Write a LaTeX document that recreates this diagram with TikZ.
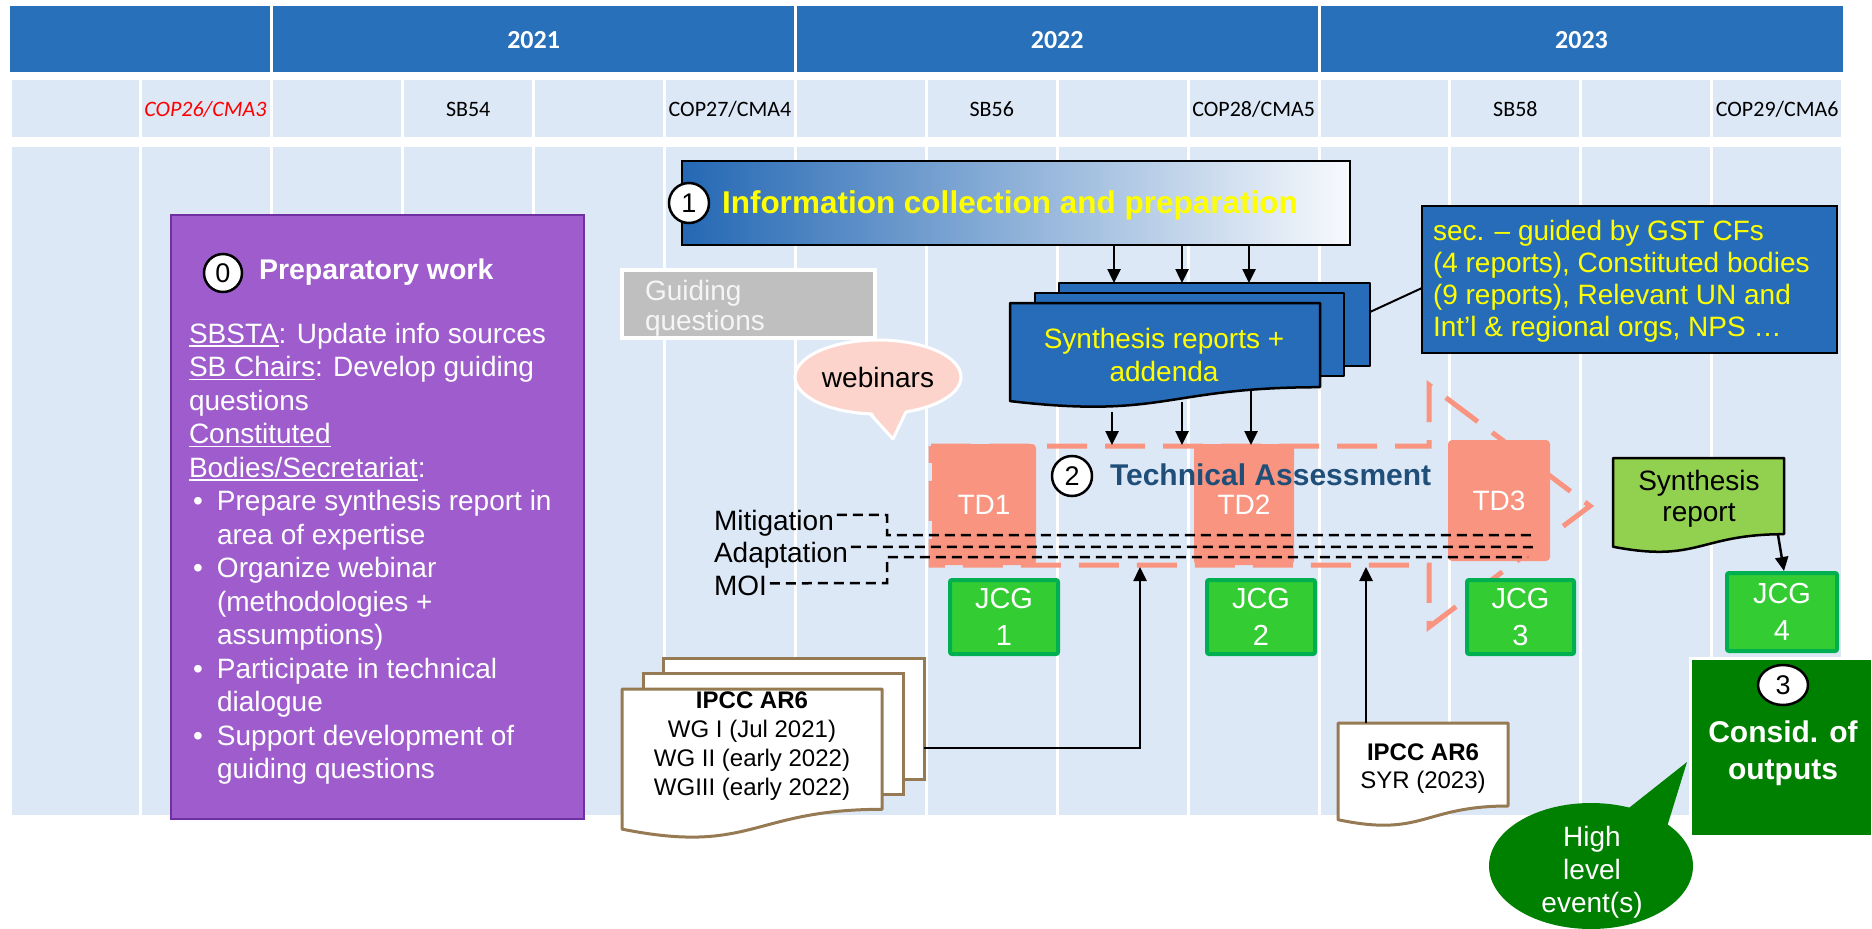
\documentclass[tikz,border=0pt]{standalone}
\usepackage{fontspec}
\setmainfont{Liberation Sans}
\newfontfamily\calib{Carlito}
\usetikzlibrary{arrows.meta,shapes.geometric,calc}
\definecolor{hdrblue}{RGB}{40,112,185}
\definecolor{cellblue}{RGB}{221,232,247}
\definecolor{docblue}{RGB}{38,108,184}
\definecolor{purplefill}{RGB}{158,92,204}
\definecolor{purpleedge}{RGB}{112,48,160}
\definecolor{salmon}{RGB}{248,148,127}
\definecolor{jcgfill}{RGB}{51,204,51}
\definecolor{jcgedge}{RGB}{0,176,80}
\definecolor{darkgreen}{RGB}{0,128,0}
\definecolor{lightgreen}{RGB}{146,208,80}
\definecolor{brownedge}{RGB}{150,122,84}
\definecolor{guidegray}{RGB}{191,191,191}
\definecolor{pinkfill}{RGB}{252,212,204}
\definecolor{tablue}{RGB}{31,78,121}
\definecolor{infoleft}{RGB}{36,104,180}
\definecolor{infomid}{RGB}{105,158,216}
\definecolor{inforight}{RGB}{248,250,253}
\definecolor{ylw}{RGB}{255,255,0}
\newcommand{\docshape}[5]{%
  \path[#5] (#1,#2) -- (#3,#2) -- (#3,{#2+0.802*#4})
    .. controls ({(#1+#3)/2},{#2+0.802*#4}) and ({(#1+#3)/2},{#2+1.1075*#4}) .. (#1,{#2+0.934*#4}) -- cycle;}
\newcommand{\pbul}{\makebox[28pt][l]{\hspace{4pt}\textbullet}}
\newcommand{\pind}{\hspace*{28pt}}
\newcommand{\uln}[1]{\setbox0\hbox{#1}\rlap{\rule[-3.5pt]{\wd0}{1.6pt}}\box0}
\begin{document}
\begin{tikzpicture}[x=1pt,y=-1pt,
  every node/.style={inner sep=0pt,outer sep=0pt},
  arr/.style={line width=2.5pt,-{Triangle[length=14pt,width=13pt]}},
  numcirc/.style={circle,draw=black,fill=white,line width=2.5pt,font=\fontsize{27}{30}\selectfont},
  hdrtext/.style={text=white,font=\calib\bfseries\fontsize{26}{30}\selectfont},
  rowtext/.style={font=\calib\fontsize{22}{26}\selectfont},
  tdbox/.style={fill=salmon,rounded corners=4pt,text=white,font=\fontsize{28}{30}\selectfont,anchor=north west},
  jcgbox/.style={fill=jcgfill,draw=jcgedge,line width=4pt,rounded corners=2pt,text=white,align=center,font=\fontsize{29}{37}\selectfont,anchor=north west},
  dline/.style={line width=2.5pt,dash pattern=on 10pt off 6pt},
  tadash/.style={draw=salmon,line width=5pt,dash pattern=on 40pt off 18pt},
  docline/.style={line width=2.5pt,line join=round}
]
\useasboundingbox (0,0) rectangle (1872,929);
% grid
\foreach \k in {0,...,13} {
  \fill[cellblue] ({10+130.9*\k+1.5},80) rectangle ({140.9+130.9*\k-1.5},137);
  \fill[cellblue] ({10+130.9*\k+1.5},147) rectangle ({140.9+130.9*\k-1.5},815);
}
\fill[hdrblue] (10,6) rectangle (270.3,72);
\fill[hdrblue] (273.3,6) rectangle (793.9,72);
\fill[hdrblue] (796.9,6) rectangle (1317.5,72);
\fill[hdrblue] (1320.5,6) rectangle (1842.6,72);
\node[hdrtext] (y2021) at (533.6,40) {2021};
\node[hdrtext] (y2022) at (1057.2,40) {2022};
\node[hdrtext] (y2023) at (1581.5,40) {2023};
\node[rowtext,text=red,font=\calib\itshape\fontsize{22}{26}\selectfont] (cop26) at (205.4,109) {COP26/CMA3};
\node[rowtext] (sb54) at (468.2,109) {SB54};
\node[rowtext] (cop27) at (730,109) {COP27/CMA4};
\node[rowtext] (sb56) at (991.8,109) {SB56};
\node[rowtext] (cop28) at (1253.6,109) {COP28/CMA5};
\node[rowtext] (sb58) at (1515.4,109) {SB58};
\node[rowtext] (cop29) at (1777.2,109) {COP29/CMA6};

% preparatory work
\node[anchor=north west,minimum width=413,minimum height=604,fill=purplefill,draw=purpleedge,line width=2.5pt] (prep) at (171,215) {};
\node[numcirc,minimum size=38] (c0) at (223,273) {0};
\node[anchor=west,text=white,font=\bfseries\fontsize{28.5}{30}\selectfont] (preph) at (259,272) {Preparatory work};
\node[anchor=north west,text=white,align=left,font=\fontsize{28}{33.5}\selectfont] (prepbody) at (189,320) {\strut\uln{SBSTA}: Update info sources\\
\uln{SB Chairs}: Develop guiding\\
questions\\
\uln{Constituted}\\
\uln{Bodies/Secretariat}:\\
\pbul Prepare synthesis report in\\
\pind area of expertise\\
\pbul Organize webinar\\
\pind (methodologies +\\
\pind assumptions)\\
\pbul Participate in technical\\
\pind dialogue\\
\pbul Support development of\\
\pind guiding questions};

% information collection
\node[anchor=north west,minimum width=668,minimum height=84,draw=black,line width=2.5pt,left color=infoleft,middle color=infomid,right color=inforight] (info) at (682,161) {};
\node[numcirc,minimum size=40] (c1) at (689,203) {1};
\node[anchor=west,text=ylw,font=\bfseries\fontsize{31.5}{34}\selectfont] (infot) at (722,205) {Information collection and preparation};

% guiding questions
\node[anchor=north west,minimum width=253,minimum height=68,fill=guidegray,draw=white,line width=4pt] (guide) at (622,270) {};
\node[anchor=north west,align=left,text=white!96!black,font=\fontsize{28}{30}\selectfont] (guidet) at (645,279) {\strut Guiding\\questions};

% webinars callout
\node[ellipse,fill=pinkfill,draw=white,line width=3pt,minimum width=166,minimum height=74,font=\fontsize{28}{30}\selectfont] (web) at (878,377) {webinars};
\coordinate (webtip) at (893,439);
\fill[pinkfill] (868,407) -- (webtip) -- (908,405) -- cycle;
\draw[white,line width=3pt,line join=round] (870,413.8) -- (webtip) -- (906,411.8);

% synthesis reports stack
\filldraw[fill=docblue,draw=black,docline] (1059,283) rectangle (1370,366);
\filldraw[fill=docblue,draw=black,docline] (1035,293) rectangle (1344,376);
\docshape{1010}{303}{1320}{105}{fill=docblue,draw=black,docline}
\node[anchor=north,align=center,text=ylw,font=\fontsize{28}{33}\selectfont] (synt) at (1164,325) {\strut Synthesis reports +\\addenda};
\coordinate (synback) at (1370,312);

% sec box
\node[anchor=north west,minimum width=415,minimum height=147,fill=docblue,draw=black,line width=2pt] (sec) at (1422,206) {};
\node[anchor=north west,align=left,text=ylw,font=\fontsize{28}{32}\selectfont] (sect) at (1433,218) {\strut sec. – guided by GST CFs\\(4 reports), Constituted bodies\\(9 reports), Relevant UN and\\Int’l \& regional orgs, NPS …};
\coordinate (secin) at (1422,288);
\draw[line width=2pt] (synback) -- (secin);

% arrows info -> stack
\foreach \xx/\nm in {1114/a,1182/b,1249/c} {
  \coordinate (top\nm) at (\xx,283);
  \draw[arr] (top\nm |- info.south) -- (top\nm);
}

% technical assessment
\draw[tadash] (931,446) -- (1429,446) -- (1429,385) -- (1590,506) -- (1429,627) -- (1429,565) -- (931,565) -- cycle;
\node[tdbox,minimum width=104,minimum height=121] (td1) at (932,444) {TD1};
\node[tdbox,minimum width=100,minimum height=121] (td2) at (1194,444) {TD2};
\node[tdbox,minimum width=102,minimum height=121] (td3) at (1448,440) {TD3};

\node[anchor=base west,font=\fontsize{28}{30}\selectfont] (mit) at (714,530) {Mitigation};
\node[anchor=base west,font=\fontsize{28}{30}\selectfont] (ada) at (714,562) {Adaptation};
\node[anchor=base west,font=\fontsize{28}{30}\selectfont] (moi) at (714,595) {MOI};
\coordinate (e1) at (887,515);
\coordinate (e2) at (887,583);
\coordinate (mitend) at (1534,535);
\coordinate (adaend) at (1537,547);
\coordinate (moiend) at (1528,557);
\draw[dline] ($(mit.east)+(3,-8)$) -- (e1) |- (mitend);
\draw[dline] ($(ada.east)+(3,-8)$) -- (adaend);
\draw[dline] ($(moi.east)+(3,-2)$) -- (e2) |- (moiend);

\node[numcirc,minimum size=40] (c2) at (1072,476) {2};
\node[anchor=west,text=tablue,font=\bfseries\fontsize{30}{32}\selectfont] (tat) at (1110,475) {Technical Assessment};

% arrows stack -> TA
\coordinate (s1) at (1112,412); \coordinate (t1) at (1112,445);
\coordinate (s2) at (1182,402); \coordinate (t2) at (1182,445);
\coordinate (s3) at (1251,390); \coordinate (t3) at (1251,445);
\draw[arr] (s1) -- (t1);
\draw[arr] (s2) -- (t2);
\draw[arr] (s3) -- (t3);

% JCG boxes
\node[jcgbox,minimum width=108,minimum height=74] (jcg1) at (950,580) {JCG\\1};
\node[jcgbox,minimum width=108,minimum height=74] (jcg2) at (1207,580) {JCG\\2};
\node[jcgbox,minimum width=107,minimum height=74] (jcg3) at (1467,580) {JCG\\3};
\node[jcgbox,minimum width=110,minimum height=78] (jcg4) at (1727,573) {JCG\\4};

% IPCC AR6 stack
\filldraw[fill=white,draw=brownedge,line width=3pt] (663,658) rectangle (924,779);
\filldraw[fill=white,draw=brownedge,line width=3pt] (643,673) rectangle (903,794);
\docshape{622}{689}{882}{150}{fill=white,draw=brownedge,line width=3pt,line join=round}
\node[anchor=north,align=center,font=\fontsize{24}{29}\selectfont] (ipcct) at (752,688) {\strut\textbf{IPCC AR6}\\WG I (Jul 2021)\\WG II (early 2022)\\WGIII (early 2022)};
\coordinate (ipccout) at (924,748);
\coordinate (tain1) at (1140,567);
\draw[arr] (ipccout) -| (tain1);

% SYR doc
\docshape{1338}{723}{1508}{103.5}{fill=white,draw=brownedge,line width=3pt,line join=round}
\node[anchor=north,align=center,font=\fontsize{24}{28}\selectfont] (syrt) at (1423,741) {\strut\textbf{IPCC AR6}\\SYR (2023)};
\coordinate (syrtop) at (1366,723);
\coordinate (tain2) at (1366,567);
\draw[arr] (syrtop) -- (tain2);

% synthesis report (green)
\docshape{1613}{458}{1784}{95}{fill=lightgreen,draw=black,docline}
\node[anchor=north,align=center,font=\fontsize{28}{31}\selectfont] (gsyn) at (1699,469) {\strut Synthesis\\report};
\coordinate (gsynout) at (1778,535);
\coordinate (j4in) at (1784,571);
\draw[arr] (gsynout) -- (j4in);

% consideration of outputs
\node[anchor=north west,minimum width=182,minimum height=178,fill=darkgreen,draw=white,line width=3pt] (cons) at (1690,658) {};
\node[ellipse,draw=black,fill=white,line width=2.5pt,minimum width=50,minimum height=40,font=\fontsize{27}{30}\selectfont] (c3) at (1783,685) {3};
\node[anchor=north,align=center,text=white,font=\bfseries\fontsize{30}{37}\selectfont] (const) at (1783,717) {\strut Consid. of\\outputs};

% high level events callout
\node[ellipse,fill=darkgreen,minimum width=204,minimum height=126] (hle) at (1591,866) {};
\coordinate (hletip) at (1687,762);
\fill[darkgreen] (1620,815) -- (hletip) -- (1666,830) -- cycle;
\node[anchor=north,align=center,text=white,font=\fontsize{28}{33}\selectfont] (hlet) at (1592,823) {\strut High\\level\\event(s)};
\end{tikzpicture}
\end{document}
